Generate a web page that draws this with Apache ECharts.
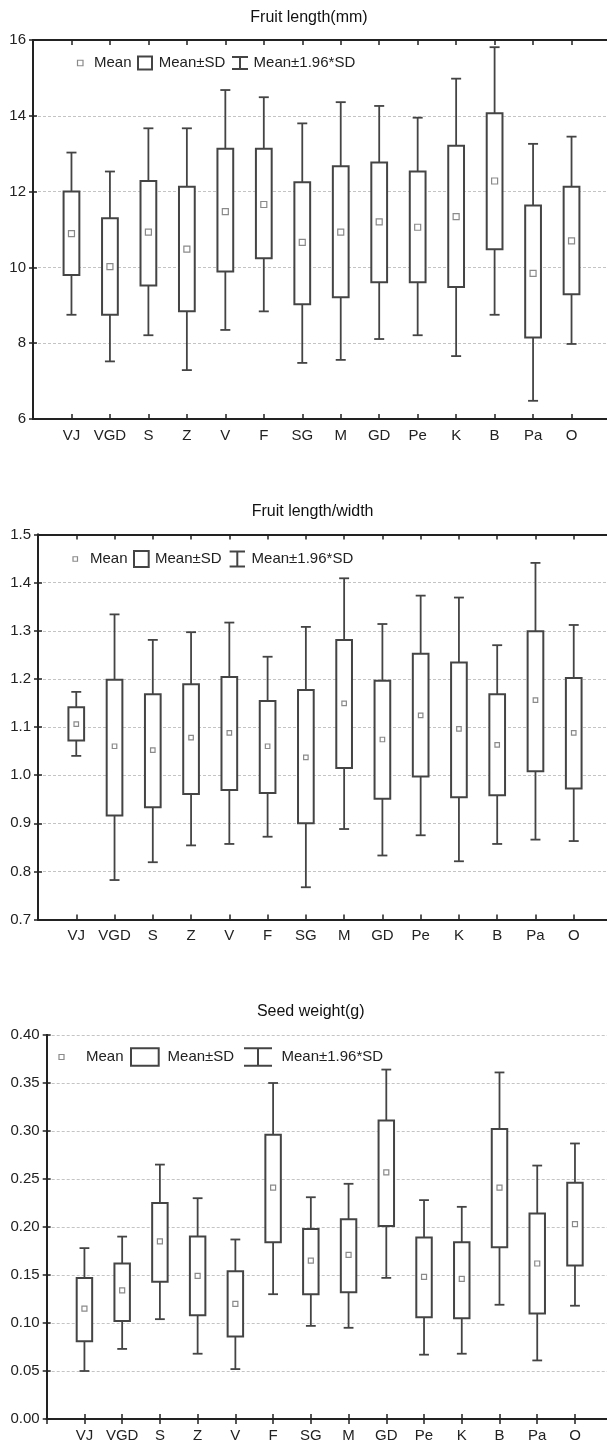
<!DOCTYPE html>
<html>
<head>
<meta charset="utf-8">
<script src="https://cdn.jsdelivr.net/npm/echarts@6/dist/echarts.min.js"></script>
<style>
  html, body { margin: 0; padding: 0; background: #fff; }
  #chart { width: 607px; height: 1443px; }
</style>
</head>
<body>
<div id="chart"></div>
<script>
const CATEGORIES = ['VJ', 'VGD', 'S', 'Z', 'V', 'F', 'SG', 'M', 'GD', 'Pe', 'K', 'B', 'Pa', 'O'];

// Fruit length (mm)
const lengthMean   = [10.89, 10.02, 10.93, 10.48, 11.47, 11.66, 10.66, 10.93, 11.20, 11.06, 11.34, 12.28, 9.84, 10.70];
const lengthSdLow  = [9.80, 8.75, 9.52, 8.84, 9.89, 10.24, 9.03, 9.21, 9.61, 9.61, 9.48, 10.48, 8.15, 9.29];
const lengthSdHigh = [12.00, 11.30, 12.28, 12.13, 13.13, 13.13, 12.25, 12.67, 12.77, 12.53, 13.21, 14.07, 11.63, 12.13];
const lengthCiLow  = [8.75, 7.52, 8.21, 7.29, 8.35, 8.84, 7.48, 7.56, 8.11, 8.21, 7.66, 8.75, 6.48, 7.98];
const lengthCiHigh = [13.03, 12.53, 13.67, 13.67, 14.68, 14.49, 13.80, 14.36, 14.26, 13.95, 14.98, 15.81, 13.26, 13.45];

// Fruit length / width
const ratioMean   = [1.106, 1.060, 1.052, 1.078, 1.088, 1.060, 1.037, 1.149, 1.074, 1.124, 1.096, 1.063, 1.156, 1.088];
const ratioSdLow  = [1.072, 0.916, 0.933, 0.961, 0.969, 0.963, 0.900, 1.015, 0.951, 0.997, 0.954, 0.958, 1.008, 0.972];
const ratioSdHigh = [1.141, 1.198, 1.168, 1.189, 1.204, 1.154, 1.177, 1.281, 1.196, 1.252, 1.234, 1.168, 1.299, 1.202];
const ratioCiLow  = [1.040, 0.782, 0.819, 0.854, 0.857, 0.872, 0.767, 0.888, 0.833, 0.875, 0.821, 0.857, 0.866, 0.863];
const ratioCiHigh = [1.173, 1.334, 1.281, 1.297, 1.317, 1.246, 1.308, 1.409, 1.314, 1.373, 1.369, 1.270, 1.441, 1.312];

// Seed weight (g)
const seedMean   = [0.115, 0.134, 0.185, 0.149, 0.120, 0.241, 0.165, 0.171, 0.257, 0.148, 0.146, 0.241, 0.162, 0.203];
const seedSdLow  = [0.081, 0.102, 0.143, 0.108, 0.086, 0.184, 0.130, 0.132, 0.201, 0.106, 0.105, 0.179, 0.110, 0.160];
const seedSdHigh = [0.147, 0.162, 0.225, 0.190, 0.154, 0.296, 0.198, 0.208, 0.311, 0.189, 0.184, 0.302, 0.214, 0.246];
const seedCiLow  = [0.050, 0.073, 0.104, 0.068, 0.052, 0.130, 0.097, 0.095, 0.147, 0.067, 0.068, 0.119, 0.061, 0.118];
const seedCiHigh = [0.178, 0.190, 0.265, 0.230, 0.187, 0.350, 0.231, 0.245, 0.364, 0.228, 0.221, 0.361, 0.264, 0.287];

const FONT = "'Liberation Sans', Arial, sans-serif";
const INK = '#222';
const LINE = '#444';

const PANELS = [
  {
    title: 'Fruit length(mm)', titleX: 309, titleY: 10,
    mean: lengthMean, sdLow: lengthSdLow, sdHigh: lengthSdHigh, ciLow: lengthCiLow, ciHigh: lengthCiHigh,
    min: 6, max: 16, step: 2, decimals: 0,
    grid: { left: 33, top: 40, width: 577, height: 379 },
    markSize: 6,
    legend: { y: 63, sq: [77.5, 5.5], mean: 94, box: [138, 14, 13], sdText: 158.7, beam: [232, 16, 12], ciText: 253.6 },
  },
  {
    title: 'Fruit length/width', titleX: 312.6, titleY: 503.7,
    mean: ratioMean, sdLow: ratioSdLow, sdHigh: ratioSdHigh, ciLow: ratioCiLow, ciHigh: ratioCiHigh,
    min: 0.7, max: 1.5, step: 0.1, decimals: 1,
    grid: { left: 38, top: 534.5, width: 574, height: 385 },
    markSize: 4.5,
    legend: { y: 559, sq: [73, 4.5], mean: 90, box: [134, 14.7, 16], sdText: 155, beam: [229.6, 15.4, 15], ciText: 251.6 },
  },
  {
    title: 'Seed weight(g)', titleX: 310.7, titleY: 1003.7,
    mean: seedMean, sdLow: seedSdLow, sdHigh: seedSdHigh, ciLow: seedCiLow, ciHigh: seedCiHigh,
    min: 0, max: 0.4, step: 0.05, decimals: 2,
    grid: { left: 46.7, top: 1035, width: 566, height: 384 },
    markSize: 5,
    legend: { y: 1057, sq: [59, 5], mean: 86, box: [131, 27.7, 17.5], sdText: 167.6, beam: [244, 28, 17.5], ciText: 281.5 },
  },
];

function renderBox(params, api) {
  const x = api.value(0);
  const lo = api.coord([x, api.value(1)]);
  const hi = api.coord([x, api.value(2)]);
  const w = api.size([1, 0])[0] * 0.41;
  return {
    type: 'rect',
    shape: { x: lo[0] - w / 2, y: hi[1], width: w, height: lo[1] - hi[1] },
    style: { fill: '#fff', stroke: LINE, lineWidth: 2 },
  };
}

function renderWhisker(params, api) {
  const x = api.value(0);
  const a = api.coord([x, api.value(1)]);
  const b = api.coord([x, api.value(2)]);
  const c = api.coord([x, api.value(3)]);
  const d = api.coord([x, api.value(4)]);
  const cap = api.size([1, 0])[0] * 0.13;
  const style = { stroke: LINE, lineWidth: 1.8 };
  return {
    type: 'group',
    children: [
      { type: 'line', shape: { x1: a[0], y1: a[1], x2: b[0], y2: b[1] }, style },
      { type: 'line', shape: { x1: c[0], y1: c[1], x2: d[0], y2: d[1] }, style },
      { type: 'line', shape: { x1: a[0] - cap, y1: a[1], x2: a[0] + cap, y2: a[1] }, style },
      { type: 'line', shape: { x1: d[0] - cap, y1: d[1], x2: d[0] + cap, y2: d[1] }, style },
    ],
  };
}

function legendGraphic(lg) {
  const txt = (x, text) => ({
    type: 'text', x, y: lg.y,
    style: { text, font: '15px ' + FONT, fill: INK, verticalAlign: 'middle' },
  });
  const bx = lg.beam[0], bw = lg.beam[1], bh = lg.beam[2];
  const bTop = lg.y - bh / 2, bBot = lg.y + bh / 2;
  const beamStyle = { stroke: LINE, lineWidth: 2 };
  return {
    type: 'group',
    children: [
      { type: 'rect', shape: { x: lg.sq[0], y: lg.y - lg.sq[1] / 2, width: lg.sq[1], height: lg.sq[1] },
        style: { fill: '#fff', stroke: '#8a8a8a', lineWidth: 1.2 } },
      txt(lg.mean, 'Mean'),
      { type: 'rect', shape: { x: lg.box[0], y: lg.y - lg.box[2] / 2, width: lg.box[1], height: lg.box[2] },
        style: { fill: '#fff', stroke: LINE, lineWidth: 2 } },
      txt(lg.sdText, 'Mean±SD'),
      { type: 'line', shape: { x1: bx, y1: bTop, x2: bx + bw, y2: bTop }, style: beamStyle },
      { type: 'line', shape: { x1: bx + bw / 2, y1: bTop, x2: bx + bw / 2, y2: bBot }, style: beamStyle },
      { type: 'line', shape: { x1: bx, y1: bBot, x2: bx + bw, y2: bBot }, style: beamStyle },
      txt(lg.ciText, 'Mean±1.96*SD'),
    ],
  };
}

const title = [];
const grid = [];
const xAxis = [];
const yAxis = [];
const series = [];
const graphic = [];

PANELS.forEach((p, i) => {
  title.push({
    text: p.title, left: p.titleX, top: p.titleY, padding: 0, textAlign: 'center',
    textStyle: { fontFamily: FONT, fontSize: 16, fontWeight: 'normal', color: '#111' },
  });
  grid.push(Object.assign({ containLabel: false, outerBoundsMode: 'none' }, p.grid));

  const axisLine = { show: true, lineStyle: { color: INK, width: 2 } };
  xAxis.push({
    type: 'value', gridIndex: i, position: 'bottom', min: 0, max: 15, interval: 1,
    axisLine, axisTick: { inside: true, length: 5, lineStyle: { color: INK, width: 1.5 } },
    splitLine: { show: false },
    axisLabel: {
      margin: 9, fontFamily: FONT, fontSize: 15, color: INK,
      formatter: (v) => CATEGORIES[v - 1] || '',
    },
  });
  xAxis.push({
    type: 'value', gridIndex: i, position: 'top', min: 0, max: 15, interval: 1,
    axisLine, axisTick: { inside: true, length: 5, lineStyle: { color: INK, width: 1.5 } },
    splitLine: { show: false }, axisLabel: { show: false },
  });
  yAxis.push({
    type: 'value', gridIndex: i, position: 'left', min: p.min, max: p.max, interval: p.step,
    axisLine, axisTick: { show: true, inside: true, length: 4, lineStyle: { color: INK, width: 1.5 } },
    splitLine: { show: true, lineStyle: { color: '#c4c4c4', width: 1, type: [3, 2] } },
    axisLabel: {
      margin: 7, fontFamily: FONT, fontSize: 15, color: INK,
      formatter: (v) => v.toFixed(p.decimals),
    },
  });
  yAxis.push({
    type: 'value', gridIndex: i, position: 'right', min: p.min, max: p.max, interval: p.step,
    axisLine, axisTick: { show: true, inside: true, length: 4, lineStyle: { color: INK, width: 1.5 } },
    splitLine: { show: false }, axisLabel: { show: false },
  });

  const whiskerData = CATEGORIES.map((c, k) => [k + 1, p.ciLow[k], p.sdLow[k], p.sdHigh[k], p.ciHigh[k]]);
  const boxData = CATEGORIES.map((c, k) => [k + 1, p.sdLow[k], p.sdHigh[k]]);
  const meanData = CATEGORIES.map((c, k) => [k + 1, p.mean[k]]);

  series.push({
    name: 'Mean±1.96*SD', type: 'custom', xAxisIndex: 2 * i, yAxisIndex: 2 * i,
    renderItem: renderWhisker, data: whiskerData, z: 1, silent: true,
  });
  series.push({
    name: 'Mean±SD', type: 'custom', xAxisIndex: 2 * i, yAxisIndex: 2 * i,
    renderItem: renderBox, data: boxData, z: 2, silent: true,
  });
  series.push({
    name: 'Mean', type: 'scatter', xAxisIndex: 2 * i, yAxisIndex: 2 * i,
    symbol: 'rect', symbolSize: p.markSize, data: meanData, z: 3, silent: true,
    itemStyle: { color: '#fff', borderColor: '#8a8a8a', borderWidth: 1.2, opacity: 1 },
  });

  graphic.push(legendGraphic(p.legend));
});

const chart = echarts.init(document.getElementById('chart'), null, { renderer: 'canvas' });
chart.setOption({
  animation: false,
  backgroundColor: '#fff',
  title,
  grid,
  xAxis,
  yAxis,
  series,
  graphic,
});
</script>
</body>
</html>
